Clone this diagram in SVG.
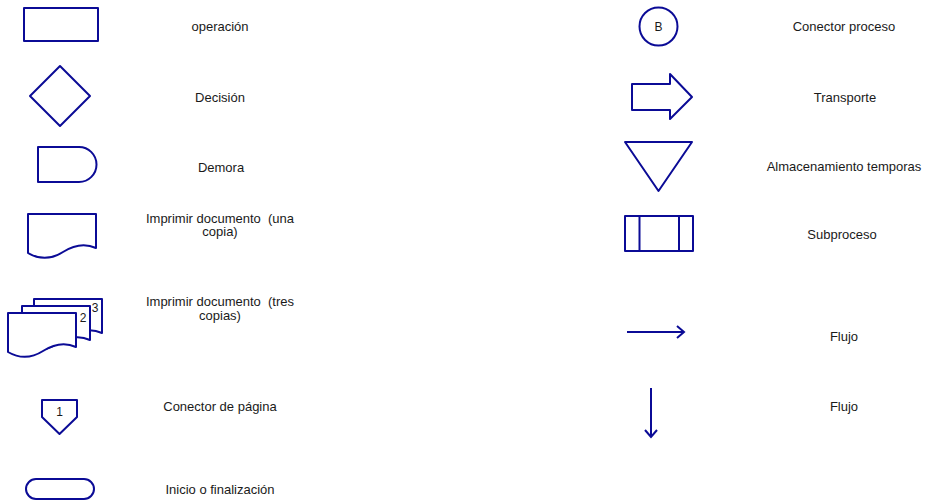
<svg xmlns="http://www.w3.org/2000/svg" width="928" height="504" viewBox="0 0 928 504">
<style>
.s{fill:#fff;stroke:#0B0B96;stroke-width:2;stroke-linejoin:round}
.l{fill:none;stroke:#0B0B96;stroke-width:2}
.t{font-family:"Liberation Sans",Arial,sans-serif;font-size:13px;fill:#1a1a1a;text-anchor:middle;white-space:pre}
.d{font-family:"Liberation Sans",Arial,sans-serif;font-size:12px;fill:#1a1a1a;text-anchor:middle}
</style>
<defs>
<path id="doc" d="M0,0 H68 V34 C57,29 46,31 35,38 C24,45 12,46 0,39 Z"/>
<marker id="arr" viewBox="0 0 10 14" refX="8" refY="7" markerWidth="10" markerHeight="14" markerUnits="userSpaceOnUse" orient="auto">
<path d="M1,1 L8,7 L1,13" fill="none" stroke="#0B0B96" stroke-width="2"/>
</marker>
</defs>
<rect width="928" height="504" fill="#fff"/>

<g id="operacion">
<rect class="s" x="24" y="8" width="74" height="33"/>
<text class="t" x="220" y="30.5">operación</text>
</g>
<g id="decision">
<polygon class="s" points="60,66 90,96 60,126 30,96"/>
<text class="t" x="220" y="101.5">Decisión</text>
</g>
<g id="demora">
<path class="s" d="M38,147 H79 A17.5,17.5 0 0 1 79,182 H38 Z"/>
<text class="t" x="221" y="171.5">Demora</text>
</g>
<g id="documento">
<use href="#doc" class="s" x="28" y="214"/>
<text class="t" x="220" y="222.5">Imprimir documento  (una</text>
<text class="t" x="220" y="236">copia)</text>
</g>
<g id="documento-tres">
<use href="#doc" class="s" x="34" y="299"/>
<use href="#doc" class="s" x="22" y="306"/>
<use href="#doc" class="s" x="8" y="313"/>
<text class="d" x="95" y="312">3</text>
<text class="d" x="83" y="322">2</text>
<text class="t" x="220" y="305.5">Imprimir documento  (tres</text>
<text class="t" x="220" y="320">copias)</text>
</g>
<g id="conector-pagina">
<path class="s" d="M42,400 H77 V417 L59.5,434 L42,417 Z"/>
<text class="d" x="59.5" y="416">1</text>
<text class="t" x="220" y="410.5">Conector de página</text>
</g>
<g id="inicio-fin">
<rect class="s" x="26" y="479" width="68" height="20" rx="10"/>
<text class="t" x="220" y="493.5">Inicio o finalización</text>
</g>

<g id="conector-proceso">
<circle class="s" cx="658.5" cy="26.5" r="19"/>
<text class="d" x="658.5" y="30.5">B</text>
<text class="t" x="844" y="30.5">Conector proceso</text>
</g>
<g id="transporte">
<path class="s" d="M632,84 H670 V74 L692,97 L670,119 V110 H632 Z"/>
<text class="t" x="845" y="101.5">Transporte</text>
</g>
<g id="almacenamiento">
<polygon class="s" points="625,142 692,142 658.5,191"/>
<text class="t" x="844" y="170.5">Almacenamiento temporas</text>
</g>
<g id="subproceso">
<rect class="s" x="625" y="216" width="68" height="35"/>
<line class="l" x1="639.5" y1="216" x2="639.5" y2="251"/>
<line class="l" x1="679" y1="216" x2="679" y2="251"/>
<text class="t" x="842" y="238.5">Subproceso</text>
</g>

<g id="connectors">
<line class="l" x1="627" y1="332" x2="684" y2="332" marker-end="url(#arr)"/>
<line class="l" x1="651" y1="388" x2="651" y2="437" marker-end="url(#arr)"/>
</g>
<g id="flujo-labels">
<text class="t" x="844" y="340.5">Flujo</text>
<text class="t" x="844" y="410.5">Flujo</text>
</g>
</svg>
